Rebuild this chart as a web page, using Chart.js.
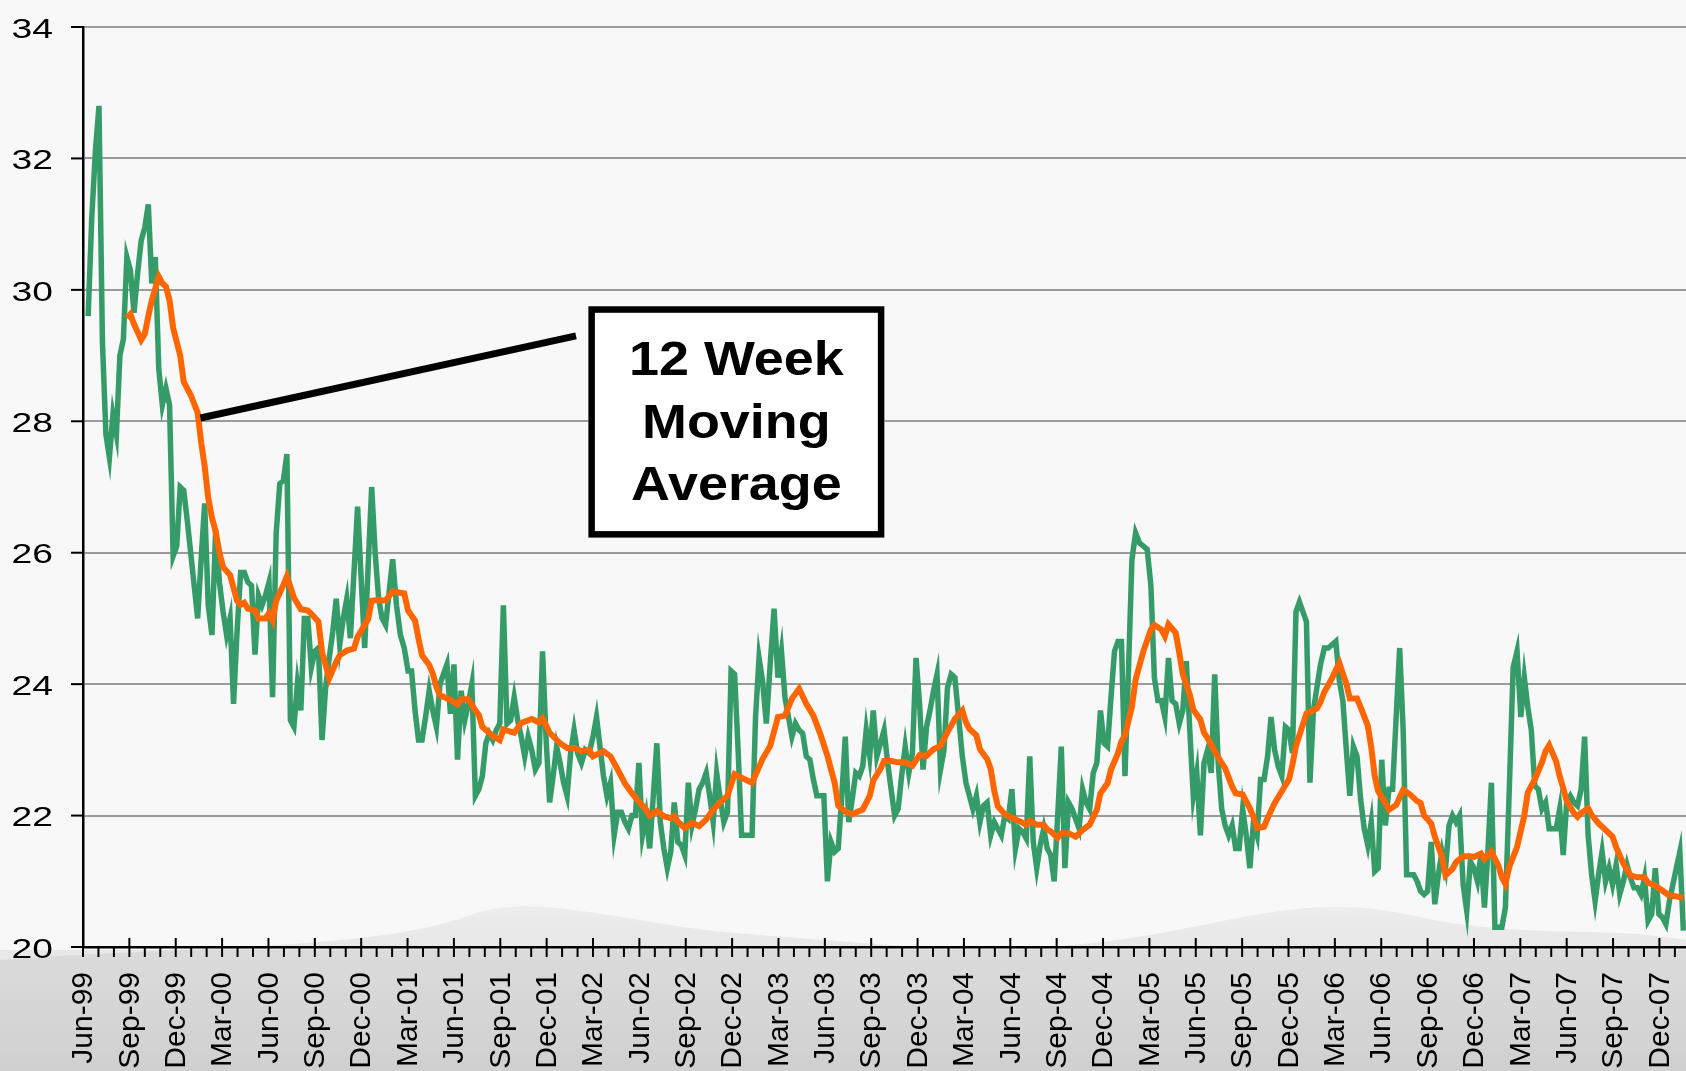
<!DOCTYPE html>
<html>
<head>
<meta charset="utf-8">
<script src="https://cdn.jsdelivr.net/npm/chart.js@4.4.1/dist/chart.umd.min.js"></script>
<style>
  html, body { margin: 0; padding: 0; background: #f8f8f8; }
  #wrap { width: 1686px; height: 1071px; position: relative; }
</style>
</head>
<body>
<div id="wrap"><canvas id="chart"></canvas></div>
<script>
// weekly readings, first week ending 11 Jun 1999
const firstWeek = new Date(1999, 5, 11);

const weekly = [
  29.6, 31.1, 32.1, 32.8, 29.2, 27.8, 27.45, 28.1, 27.8, 29.0,
  29.25, 30.5, 30.3, 29.65, 30.25, 30.75, 30.95, 31.3, 30.1, 30.5,
  28.8, 28.25, 28.5, 28.25, 25.95, 26.1, 27.0, 26.95, 26.5, 26.0,
  25.5, 25.0, 25.9, 26.75, 25.2, 24.75, 26.35, 25.55, 25.1, 24.75,
  25.0, 23.7, 24.8, 25.7, 25.7, 25.55, 25.5, 24.45, 25.35, 25.2,
  25.35, 25.55, 23.8, 26.3, 27.05, 27.1, 27.5, 23.45, 23.35, 24.0,
  23.6, 25.0, 25.0, 24.25, 24.5, 24.55, 23.15, 23.95, 24.4, 24.8,
  25.3, 24.6, 25.0, 25.3, 24.7, 25.7, 26.7, 25.6, 24.55, 25.8,
  27.0, 26.0, 25.3, 25.0, 24.9, 25.4, 25.9, 25.2, 24.75, 24.55,
  24.2, 24.2, 23.6, 23.15, 23.15, 23.5, 23.9, 23.6, 23.35, 24.0,
  24.15, 24.3, 23.55, 24.3, 22.85, 23.9, 23.45, 23.7, 24.0, 22.3,
  22.4, 22.6, 23.1, 23.25, 23.15, 23.3, 23.4, 25.2, 23.4, 23.45,
  23.8, 23.45, 23.2, 22.9, 23.2, 23.0, 22.7, 22.8, 24.5, 23.15,
  22.2, 22.6, 23.05, 22.8, 22.5, 22.3, 22.95, 23.3, 22.95, 22.8,
  23.0, 22.95, 23.2, 23.5, 23.05, 22.6, 22.3, 22.5, 21.7, 22.05,
  22.05, 21.9, 21.8, 22.0, 22.0, 22.8, 21.7, 22.0, 21.5, 22.3,
  23.1, 21.9, 21.5, 21.2, 21.45, 22.2, 21.6, 21.55, 21.4, 22.5,
  21.85, 22.1, 22.4, 22.5, 22.65, 22.3, 21.9, 22.65, 22.25, 21.9,
  22.05, 24.2, 24.15, 23.0, 21.7, 21.7, 21.7, 21.7, 23.5, 24.4,
  24.05, 23.4, 24.3, 25.15, 24.1, 24.5, 23.8, 23.5, 23.2, 23.4,
  23.3, 23.25, 22.9, 22.85, 22.55, 22.3, 22.3, 22.3, 21.0, 21.6,
  21.45, 21.5, 22.3, 23.2, 21.9, 22.25, 22.65, 22.6, 22.75, 23.3,
  22.9, 23.6, 22.9, 23.1, 23.3, 22.8, 22.4, 22.0, 22.1, 22.6,
  23.05, 22.65, 22.95, 24.4, 23.7, 22.7, 23.35, 23.6, 23.9, 24.15,
  22.7, 23.0, 23.95, 24.15, 24.1, 23.5, 22.9, 22.5, 22.3, 22.1,
  22.3, 21.9, 22.15, 22.2, 21.7, 21.9, 21.8, 21.7, 22.0, 21.95,
  22.4, 21.5, 21.8, 21.75, 21.65, 22.9, 21.6, 21.2, 21.55, 21.8,
  21.5, 21.4, 21.0, 22.0, 23.05, 21.2, 22.2, 22.1, 21.95, 21.8,
  22.4, 22.2, 22.1, 22.65, 22.8, 23.6, 23.1, 23.05, 23.8, 24.5,
  24.65, 24.65, 22.6, 24.2, 25.9, 26.3, 26.15, 26.1, 26.05, 25.5,
  24.1, 23.75, 23.75, 23.5, 24.4, 23.75, 23.7, 23.4, 23.6, 24.35,
  23.3, 22.3, 22.65, 21.7, 22.8, 23.0, 22.65, 24.15, 22.8, 22.1,
  21.85, 21.7, 21.85, 21.5, 21.5, 22.1, 21.7, 21.2, 21.9, 21.7,
  22.55, 22.55, 22.9, 23.5, 23.0, 22.75, 22.6, 23.35, 23.3, 22.95,
  25.1, 25.25, 25.1, 24.95, 22.5, 23.6, 23.95, 24.3, 24.55, 24.55,
  24.6, 24.65, 24.05, 23.75, 23.0, 22.3, 23.05, 22.9, 22.25, 21.8,
  21.55, 21.9, 21.15, 21.2, 22.85, 21.85, 22.4, 22.4, 23.5, 24.55,
  23.3, 21.1, 21.1, 21.1, 21.0, 20.85, 20.8, 20.85, 21.6, 20.65,
  21.1, 21.45, 21.2, 21.85, 22.0, 21.9, 22.0, 20.95, 20.55, 21.3,
  21.2, 21.0, 21.4, 20.6, 21.45, 22.5, 20.3, 20.3, 20.3, 20.6,
  22.4, 24.25, 24.5, 23.5, 24.1, 23.65, 23.3, 22.45, 22.4, 22.1,
  22.2, 21.8, 21.8, 21.8, 22.1, 21.4, 22.2, 22.3, 22.2, 22.15,
  22.4, 23.2, 21.7, 21.1, 20.7, 21.1, 21.45, 21.0, 21.2, 20.95,
  21.25, 20.8, 21.0, 21.25, 21.05, 20.9, 20.9, 20.8, 21.05, 20.4,
  20.5, 21.2, 20.5, 20.45, 20.35, 20.7, 20.95, 21.2, 21.45, 20.25
];

// 12 week moving average, read at these week numbers
const maWeeks = [
  11, 12, 13, 14, 15, 16, 17, 18, 20, 21, 22, 23, 24, 26, 27, 29, 31, 32, 33, 34,
  35, 36, 37, 38, 40, 42, 43, 44, 45, 47, 48, 50, 51, 52, 53, 55, 56, 58, 60, 62,
  63, 65, 66, 68, 70, 71, 73, 75, 76, 79, 80, 82, 84, 86, 89, 90, 92, 93, 94, 96,
  97, 98, 99, 102, 104, 105, 107, 109, 110, 111, 114, 116, 117, 120, 122, 125, 127, 128, 130, 133,
  135, 137, 139, 141, 142, 145, 147, 149, 151, 153, 155, 157, 158, 160, 161, 162, 164, 165, 166, 168,
  170, 172, 174, 176, 178, 180, 182, 185, 187, 190, 192, 194, 196, 198, 200, 202, 204, 206, 208, 209,
  210, 211, 213, 215, 217, 218, 220, 221, 223, 224, 226, 228, 230, 232, 234, 236, 238, 240, 242, 244,
  246, 247, 248, 250, 251, 253, 254, 255, 256, 258, 259, 261, 263, 264, 265, 267, 269, 270, 271, 273,
  274, 276, 278, 280, 282, 284, 285, 287, 288, 290, 291, 292, 294, 295, 297, 299, 300, 302, 303, 304,
  306, 307, 308, 310, 311, 313, 314, 315, 317, 319, 320, 322, 323, 325, 327, 328, 329, 331, 332, 334,
  336, 338, 339, 340, 342, 343, 346, 347, 348, 350, 351, 352, 353, 354, 355, 357, 358, 360, 361, 362,
  363, 365, 366, 368, 370, 372, 374, 375, 376, 378, 379, 381, 382, 384, 385, 387, 389, 390, 392, 393,
  395, 397, 398, 399, 400, 402, 404, 405, 407, 409, 410, 411, 413, 414, 415, 416, 418, 419, 420, 422,
  423, 425, 427, 429, 430, 432, 434, 436, 438, 439, 441, 443, 445, 446, 449
];
const maValues = [
  29.57, 29.63, 29.48, 29.36, 29.24, 29.33, 29.6, 29.84, 30.2, 30.1, 30.05, 29.84, 29.42, 29.0, 28.6, 28.4, 28.13, 27.68, 27.32, 26.83,
  26.53, 26.32, 26.0, 25.78, 25.66, 25.27, 25.21, 25.24, 25.15, 25.12, 25.0, 25.0, 25.08, 24.97, 25.27, 25.51, 25.64, 25.32, 25.14, 25.12,
  25.07, 24.95, 24.49, 24.09, 24.34, 24.44, 24.51, 24.54, 24.72, 24.99, 25.27, 25.28, 25.27, 25.41, 25.38, 25.12, 24.97, 24.69, 24.44, 24.29,
  24.16, 23.96, 23.83, 23.76, 23.69, 23.77, 23.77, 23.6, 23.53, 23.35, 23.21, 23.15, 23.31, 23.26, 23.41, 23.47, 23.42, 23.48, 23.26, 23.1,
  23.03, 23.03, 22.98, 23.0, 22.9, 22.98, 22.9, 22.7, 22.49, 22.34, 22.21, 22.09, 22.0, 22.07, 22.03, 21.99, 21.96, 21.99, 21.91, 21.81,
  21.89, 21.84, 21.94, 22.09, 22.2, 22.3, 22.63, 22.55, 22.5, 22.86, 23.06, 23.5, 23.52, 23.78, 23.93, 23.7, 23.52, 23.24, 22.91, 22.7,
  22.5, 22.15, 22.06, 22.02, 22.07, 22.09, 22.3, 22.53, 22.71, 22.83, 22.83, 22.81, 22.81, 22.76, 22.92, 22.91, 23.01, 23.06, 23.27, 23.47,
  23.6, 23.42, 23.32, 23.22, 23.01, 22.86, 22.71, 22.37, 22.14, 22.02, 21.99, 21.94, 21.89, 21.86, 21.92, 21.86, 21.86, 21.79, 21.76, 21.66,
  21.73, 21.73, 21.68, 21.78, 21.86, 22.09, 22.34, 22.49, 22.7, 22.95, 23.13, 23.22, 23.66, 24.07, 24.5, 24.83, 24.9, 24.83, 24.73, 24.91,
  24.78, 24.48, 24.15, 23.84, 23.61, 23.46, 23.26, 23.18, 22.98, 22.8, 22.72, 22.44, 22.34, 22.32, 22.11, 21.98, 21.81, 21.83, 21.96, 22.19,
  22.37, 22.55, 22.78, 23.06, 23.39, 23.55, 23.63, 23.73, 23.88, 24.09, 24.22, 24.32, 24.16, 24.01, 23.78, 23.78, 23.65, 23.37, 23.04, 22.6,
  22.37, 22.19, 22.09, 22.16, 22.39, 22.32, 22.22, 22.19, 22.0, 21.88, 21.68, 21.37, 21.09, 21.19, 21.29, 21.38, 21.38, 21.37, 21.42, 21.34,
  21.45, 21.24, 21.06, 20.96, 21.22, 21.52, 22.0, 22.35, 22.55, 22.81, 22.98, 23.07, 22.82, 22.6, 22.42, 22.22, 22.04, 21.98, 22.04, 22.11,
  22.01, 21.88, 21.78, 21.68, 21.52, 21.27, 21.09, 21.06, 21.06, 20.98, 20.93, 20.86, 20.78, 20.78, 20.75
];

// one label every three months, starting at the axis origin (Jun-99)
const quarterLabels = [
  'Jun-99', 'Sep-99', 'Dec-99', 'Mar-00', 'Jun-00', 'Sep-00', 'Dec-00', 'Mar-01', 'Jun-01',
  'Sep-01', 'Dec-01', 'Mar-02', 'Jun-02', 'Sep-02', 'Dec-02', 'Mar-03', 'Jun-03', 'Sep-03',
  'Dec-03', 'Mar-04', 'Jun-04', 'Sep-04', 'Dec-04', 'Mar-05', 'Jun-05', 'Sep-05', 'Dec-05',
  'Mar-06', 'Jun-06', 'Sep-06', 'Dec-06', 'Mar-07', 'Jun-07', 'Sep-07', 'Dec-07'
];

const noteLines = ['12 Week', 'Moving', 'Average'];

// months elapsed since 1 Jun 1999 for a given week number
function monthPos(week) {
  const d = new Date(firstWeek.getTime() + week * 7 * 86400000);
  const days = new Date(d.getFullYear(), d.getMonth() + 1, 0).getDate();
  return (d.getFullYear() - 1999) * 12 + d.getMonth() - 5 + (d.getDate() - 1 + d.getHours() / 24) / days;
}

const FONT = '"Liberation Sans", Arial, sans-serif';

const decor = {
  id: 'decor',
  beforeDraw(chart) {
    const { ctx, width, height } = chart;
    ctx.save();
    ctx.fillStyle = '#f8f8f8';
    ctx.fillRect(0, 0, width, height);
    // faded landscape photo along the bottom
    const g = ctx.createLinearGradient(0, 840, 0, height);
    g.addColorStop(0, 'rgba(205,205,205,0)');
    g.addColorStop(0.4, 'rgba(205,205,205,0.35)');
    g.addColorStop(1, 'rgba(195,195,195,0.6)');
    ctx.fillStyle = g;
    ctx.beginPath();
    ctx.moveTo(0, 960);
    ctx.bezierCurveTo(200, 945, 380, 950, 470, 915);
    ctx.bezierCurveTo(540, 890, 620, 925, 760, 935);
    ctx.bezierCurveTo(900, 945, 1000, 960, 1150, 935);
    ctx.bezierCurveTo(1260, 915, 1320, 895, 1410, 915);
    ctx.bezierCurveTo(1520, 940, 1600, 925, 1686, 940);
    ctx.lineTo(1686, height);
    ctx.lineTo(0, height);
    ctx.closePath();
    ctx.fill();
    ctx.fillStyle = 'rgba(185,185,185,0.25)';
    ctx.fillRect(0, 950, width, height - 950);
    ctx.restore();
  },
  afterDraw(chart) {
    const { ctx, scales: { x, y } } = chart;
    const axisY = y.getPixelForValue(y.min);
    const left = x.left;
    ctx.save();

    // month ticks, longer crossing ticks at each quarter
    ctx.strokeStyle = '#000';
    ctx.lineWidth = 2;
    for (let m = 0; m <= Math.floor(x.max); m++) {
      const px = x.getPixelForValue(m);
      ctx.beginPath();
      ctx.moveTo(px, m % 3 === 0 ? axisY - 9 : axisY);
      ctx.lineTo(px, axisY + 10);
      ctx.stroke();
    }
    y.ticks.forEach(t => {
      const py = y.getPixelForValue(t.value);
      ctx.beginPath();
      ctx.moveTo(left - 12, py);
      ctx.lineTo(left, py);
      ctx.stroke();
    });

    // value labels
    ctx.fillStyle = '#000';
    ctx.font = '28px ' + FONT;
    ctx.textAlign = 'right';
    ctx.textBaseline = 'middle';
    y.ticks.forEach(t => {
      const py = y.getPixelForValue(t.value);
      ctx.save();
      ctx.translate(left - 30, py + 3);
      ctx.scale(1.33, 1);
      ctx.fillText(String(t.value), 0, 0);
      ctx.restore();
    });

    // date labels, read bottom to top
    ctx.font = '30px ' + FONT;
    x.ticks.forEach(t => {
      const label = quarterLabels[Math.round(t.value / 3)];
      if (!label) return;
      ctx.save();
      ctx.translate(x.getPixelForValue(t.value) + 1, axisY + 25);
      ctx.rotate(-Math.PI / 2);
      ctx.fillText(label, 0, 0);
      ctx.restore();
    });

    // call-out for the moving average
    const p0x = x.getPixelForValue(7.6), p0y = y.getPixelForValue(28.05);
    const p1x = x.getPixelForValue(31.9), p1y = y.getPixelForValue(29.3);
    ctx.lineWidth = 7;
    ctx.lineCap = 'butt';
    ctx.beginPath();
    ctx.moveTo(p0x, p0y);
    ctx.lineTo(p1x, p1y);
    ctx.stroke();

    const bx0 = x.getPixelForValue(32.7), bx1 = x.getPixelForValue(51.85);
    const by0 = y.getPixelForValue(29.75), by1 = y.getPixelForValue(26.23);
    ctx.fillStyle = '#fff';
    ctx.fillRect(bx0, by0, bx1 - bx0, by1 - by0);
    ctx.lineWidth = 6.5;
    ctx.strokeRect(bx0 + 3.25, by0 + 3.25, bx1 - bx0 - 6.5, by1 - by0 - 6.5);

    ctx.fillStyle = '#000';
    ctx.font = 'bold 49px ' + FONT;
    ctx.textAlign = 'center';
    ctx.textBaseline = 'alphabetic';
    const cx = (bx0 + bx1) / 2;
    noteLines.forEach((line, i) => {
      ctx.save();
      ctx.translate(cx, by0 + 69 + i * 62.5);
      ctx.scale(1.1, 1);
      ctx.fillText(line, 0, 0);
      ctx.restore();
    });
    ctx.restore();
  }
};

new Chart(document.getElementById('chart'), {
  type: 'line',
  data: {
    datasets: [
      {
        label: '12 Week Moving Average',
        data: maWeeks.map((w, i) => ({ x: monthPos(w), y: maValues[i] })),
        borderColor: '#ff6600',
        borderWidth: 6,
        pointRadius: 0,
        tension: 0
      },
      {
        label: 'Weekly',
        data: weekly.map((v, i) => ({ x: monthPos(i), y: v })),
        borderColor: '#359b69',
        borderWidth: 5.5,
        pointRadius: 0,
        tension: 0
      }
    ]
  },
  options: {
    responsive: true,
    maintainAspectRatio: false,
    animation: false,
    layout: { padding: { left: 83, top: 27, right: 0, bottom: 124 } },
    plugins: { legend: { display: false }, tooltip: { enabled: false } },
    scales: {
      x: {
        type: 'linear',
        min: 0,
        max: 103.72,
        ticks: { display: false, stepSize: 3, includeBounds: false },
        grid: { display: true, drawOnChartArea: false, drawTicks: false },
        border: { display: true, color: '#000', width: 2.5 }
      },
      y: {
        min: 20,
        max: 34,
        ticks: { display: false, stepSize: 2 },
        grid: { color: '#9b9b9b', lineWidth: 2, drawTicks: false },
        border: { display: true, color: '#000', width: 2.5 }
      }
    }
  },
  plugins: [decor]
});
</script>
</body>
</html>
